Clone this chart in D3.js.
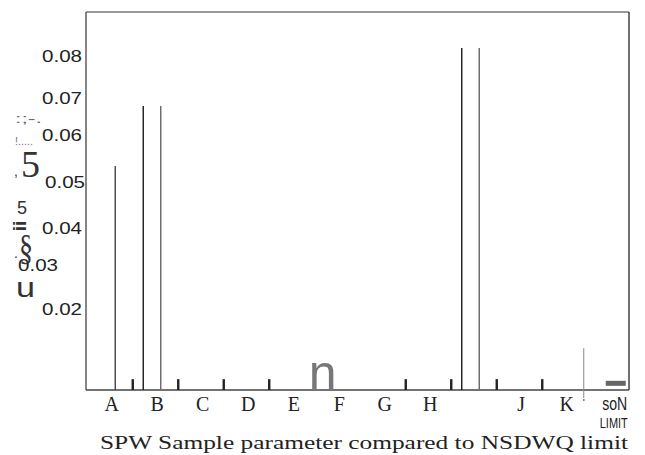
<!DOCTYPE html>
<html>
<head>
<meta charset="utf-8">
<script src="https://cdn.jsdelivr.net/npm/d3@7"></script>
<style>
    html, body { margin: 0; padding: 0; background: #fff; }
    svg { display: block; }
</style>
</head>
<body>
<div id="chart"></div>
<script>
'use strict';

// Chart values
const categories = ['A', 'B', 'C', 'D', 'E', 'F', 'G', 'H', 'I', 'J', 'K', 'SoN'];
const catLabels  = ['A', 'B', 'C', 'D', 'E', 'F', 'G', 'H', '', 'J', 'K', 'soN'];

// first sample line, second sample line, small detection ticks
const sample1 = [null, 0.068, null, null, null, null, null, null, 0.0819, null, null, null];
const sample2 = [0.0536, 0.068, null, null, null, null, null, null, 0.0819, null, null, null];
const detect  = [0.0026, 0.0026, 0.0026, 0.0026, null, null, 0.0026, 0.0026, 0.0026, 0.0026, null, null];
const marker  = [null, null, null, null, null, null, null, null, null, null, 0.010, null];
const limitBand = [0.001, 0.0022];   // SoN limit block

const yTicks = [0.02, 0.03, 0.04, 0.05, 0.06, 0.07, 0.08];
const title = 'SPW  Sample parameter compared to NSDWQ limit';

const SERIF = '"Liberation Serif", "Times New Roman", serif';
const SANS = '"Liberation Sans", Arial, sans-serif';

const width = 645, height = 455;
const plot = { left: 86, right: 629, top: 12, bottom: 390 };

const svg = d3.select('#chart').append('svg')
    .attr('width', width)
    .attr('height', height);

const x = d3.scaleBand()
    .domain(categories)
    .range([89, 635])
    .padding(0);

const sub = d3.scalePoint()
    .domain(['s1', 's2', 'd'])
    .range([-14, 21]);

const y = d3.scaleLinear()
    .domain([0, 0.0905])
    .range([plot.bottom, plot.top]);

const cx = (c) => x(c) + x.bandwidth() / 2;

// Frame
svg.append('line')
    .attr('x1', plot.left).attr('x2', plot.right)
    .attr('y1', plot.top).attr('y2', plot.top)
    .attr('stroke', '#777').attr('stroke-width', 1.5);
svg.append('line')
    .attr('x1', plot.right).attr('x2', plot.right)
    .attr('y1', plot.top).attr('y2', plot.bottom)
    .attr('stroke', '#111').attr('stroke-width', 1.2);
svg.append('line')
    .attr('x1', plot.left).attr('x2', plot.left)
    .attr('y1', plot.top).attr('y2', plot.bottom)
    .attr('stroke', '#333').attr('stroke-width', 1.2);
svg.append('line')
    .attr('x1', plot.left).attr('x2', plot.right)
    .attr('y1', plot.bottom).attr('y2', plot.bottom)
    .attr('stroke', '#444').attr('stroke-width', 1.4);

// Y axis labels only (the scan places a few of them slightly off)
const labelNudge = { 0.03: [-24, 0], 0.04: [0, 5], 0.05: [3, 1], 0.06: [0, -4], 0.02: [0, 3] };
const axisY = svg.append('g')
    .attr('transform', `translate(${plot.left}, 0)`)
    .call(d3.axisLeft(y).tickValues(yTicks).tickSize(0).tickPadding(4).tickFormat(d3.format('.2f')));
axisY.select('.domain').remove();
axisY.selectAll('text')
    .style('font-family', SANS)
    .style('font-size', '17px')
    .attr('textLength', 40)
    .attr('lengthAdjust', 'spacingAndGlyphs')
    .attr('fill', '#222')
    .attr('dx', d => (labelNudge[d] || [0, 0])[0])
    .attr('dy', d => 5.5 + (labelNudge[d] || [0, 0])[1]);

// Garbled y-axis title fragments
const yTitleBits = [
    { t: ':;-.', x: 15, y: 123, s: 12, f: SANS, c: '#666', w: 27 },
    { t: '!.....', x: 15, y: 145, s: 10, f: SANS, c: '#777', w: 18 },
    { t: '5', x: 21, y: 177, s: 38, f: SERIF, c: '#333', w: 0 },
    { t: ',', x: 14, y: 176, s: 14, f: SANS, c: '#333', w: 0 },
    { t: '5', x: 17, y: 214, s: 18, f: SANS, c: '#333', w: 0 },
    { t: '§', x: 19, y: 259, s: 36, f: SERIF, c: '#333', w: 14 },
    { t: '.', x: 14, y: 258, s: 14, f: SANS, c: '#333', w: 0 },
    { t: 'u', x: 16, y: 297, s: 27, f: SANS, c: '#333', w: 19 }
];
svg.selectAll('text.ybit')
    .data(yTitleBits)
    .join('text')
    .attr('class', 'ybit')
    .attr('x', d => d.x).attr('y', d => d.y)
    .style('font-family', d => d.f)
    .style('font-size', d => d.s + 'px')
    .attr('fill', d => d.c)
    .each(function (d) {
        if (d.w) d3.select(this).attr('textLength', d.w).attr('lengthAdjust', 'spacingAndGlyphs');
    })
    .text(d => d.t);
svg.append('text')
    .attr('transform', 'translate(26, 226) rotate(-90)')
    .attr('text-anchor', 'middle')
    .style('font-family', SANS)
    .style('font-size', '19px')
    .style('font-weight', 'bold')
    .attr('fill', '#333')
    .text('ii');

// Sample lines
const lineData = [];
categories.forEach((c, i) => {
    if (sample1[i] != null) lineData.push({ c, key: 's1', v: sample1[i], col: '#1a1a1a' });
    if (sample2[i] != null) lineData.push({ c, key: 's2', v: sample2[i], col: sample1[i] != null ? '#666' : '#444' });
});
svg.selectAll('line.sample')
    .data(lineData)
    .join('line')
    .classed('sample', true)
    .attr('x1', d => cx(d.c) + sub(d.key))
    .attr('x2', d => cx(d.c) + sub(d.key))
    .attr('y1', y(0))
    .attr('y2', d => y(d.v))
    .attr('stroke', d => d.col)
    .attr('stroke-width', 1.4);

// Detection ticks
const detData = categories.map((c, i) => ({ c, v: detect[i] })).filter(d => d.v != null);
svg.selectAll('line.det')
    .data(detData)
    .join('line')
    .classed('det', true)
    .attr('x1', d => cx(d.c) + sub('d'))
    .attr('x2', d => cx(d.c) + sub('d'))
    .attr('y1', y(0))
    .attr('y2', d => y(d.v))
    .attr('stroke', '#222')
    .attr('stroke-width', 2.4);

// K marker line running below the axis
const markData = categories.map((c, i) => ({ c, v: marker[i] })).filter(d => d.v != null);
svg.selectAll('line.marker')
    .data(markData)
    .join('line')
    .classed('marker', true)
    .attr('x1', d => cx(d.c) + 17)
    .attr('x2', d => cx(d.c) + 17)
    .attr('y1', y(0) + 8)
    .attr('y2', d => y(d.v))
    .attr('stroke', '#888')
    .attr('stroke-width', 1);
svg.selectAll('rect.markdot')
    .data(markData)
    .join('rect')
    .classed('markdot', true)
    .attr('x', d => cx(d.c) + 16.5)
    .attr('y', y(0) + 9)
    .attr('width', 1.2).attr('height', 2)
    .attr('fill', '#555');

// SoN limit block
svg.append('rect')
    .attr('x', cx('SoN') - 6.5)
    .attr('width', 20)
    .attr('y', y(limitBand[1]))
    .attr('height', y(limitBand[0]) - y(limitBand[1]))
    .attr('fill', '#666');

// Stray gray "n" near E/F
svg.append('text')
    .attr('x', cx('E') + 29)
    .attr('y', plot.bottom)
    .attr('text-anchor', 'middle')
    .style('font-family', SANS)
    .style('font-size', '50px')
    .attr('fill', '#777')
    .text('n');

// X category labels
svg.selectAll('text.xlab')
    .data(categories.map((c, i) => ({ c, label: catLabels[i] })).filter(d => d.c !== 'SoN'))
    .join('text')
    .attr('class', 'xlab')
    .attr('x', d => cx(d.c))
    .attr('y', 411)
    .attr('text-anchor', 'middle')
    .style('font-family', SERIF)
    .style('font-size', '20px')
    .attr('fill', '#222')
    .text(d => d.label);

svg.append('text')
    .attr('x', cx('SoN') + 2.5)
    .attr('y', 410)
    .attr('text-anchor', 'middle')
    .style('font-family', SANS)
    .style('font-size', '18px')
    .attr('textLength', 25)
    .attr('lengthAdjust', 'spacingAndGlyphs')
    .attr('fill', '#222')
    .text(catLabels[catLabels.length - 1]);

svg.append('text')
    .attr('x', cx('SoN') + 1.5)
    .attr('y', 428)
    .attr('text-anchor', 'middle')
    .style('font-family', SANS)
    .style('font-size', '15px')
    .attr('textLength', 28)
    .attr('lengthAdjust', 'spacingAndGlyphs')
    .attr('fill', '#222')
    .text('LIMIT');

// Title
svg.append('text')
    .attr('x', 100)
    .attr('y', 449)
    .style('font-family', SERIF)
    .style('font-size', '19px')
    .attr('fill', '#222')
    .attr('textLength', 528)
    .attr('lengthAdjust', 'spacingAndGlyphs')
    .text(title);
</script>
</body>
</html>
